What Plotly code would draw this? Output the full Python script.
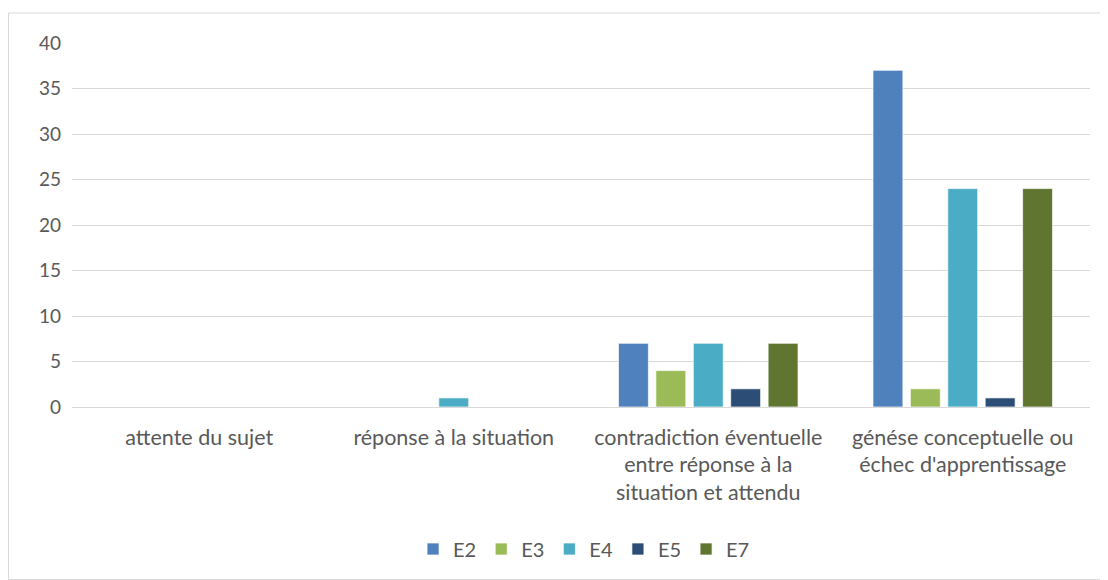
import plotly.graph_objects as go

categories = [
    "attente du sujet",
    "réponse à la situation",
    "contradiction éventuelle<br>entre réponse à la<br>situation et attendu",
    "génése conceptuelle ou<br>échec d'apprentissage",
]
series_names = ["E2", "E3", "E4", "E5", "E7"]
E2 = [0, 0, 7, 37]
E3 = [0, 0, 4, 2]
E4 = [0, 1, 7, 24]
E5 = [0, 0, 2, 1]
E7 = [0, 0, 7, 24]
values = [E2, E3, E4, E5, E7]
colors = ["#4F81BD", "#9BBB59", "#4BACC6", "#2C4D75", "#5F7530"]
y_ticks = [0, 5, 10, 15, 20, 25, 30, 35, 40]

fig = go.Figure()
for name, vals, col in zip(series_names, values, colors):
    fig.add_trace(go.Bar(x=categories, y=vals, name=name,
                         marker=dict(color=col, line=dict(color="white", width=0.7))))

# page offset of 8px (body margin)
W, H = 1100, 572
l, r, t, b = 64, 18, 35, 173
pw, ph = W - l - r, H - t - b
bx0, by0, bx1, by1 = 0.5, 5, 1099.5, 571.5
fig.add_shape(type="rect", xref="paper", yref="paper",
              x0=(bx0 - l) / pw, x1=(bx1 - l) / pw,
              y0=(H - b - by1) / ph, y1=(H - b - by0) / ph,
              line=dict(color="#D9D9D9", width=1), fillcolor="rgba(0,0,0,0)", layer="below")

FONT = "Lato, Carlito, Calibri, Liberation Sans, Arial"
fig.update_layout(
    width=W, height=H,
    margin=dict(l=l, r=r, t=t, b=b),
    paper_bgcolor="white", plot_bgcolor="white",
    barmode="group", bargap=0.265, bargroupgap=0.2,
    font=dict(family=FONT, size=20, color="#595959"),
    showlegend=True,
    legend=dict(orientation="h", x=0.503, xanchor="center", y=(H - b - 541) / ph, yanchor="middle",
                font=dict(size=20, color="#595959"), itemwidth=30),
    yaxis=dict(range=[0, 40], tickvals=y_ticks, showgrid=True, gridcolor="#D9D9D9", gridwidth=1.3,
               zeroline=True, zerolinecolor="#D9D9D9", zerolinewidth=1.3, showline=False,
               ticks="", ticklabelstandoff=10, tickfont=dict(size=19)),
    xaxis=dict(showline=False, ticks="", tickangle=0, tickfont=dict(size=21.5), ticklabelstandoff=15),
)

fig.write_html("out.html")
